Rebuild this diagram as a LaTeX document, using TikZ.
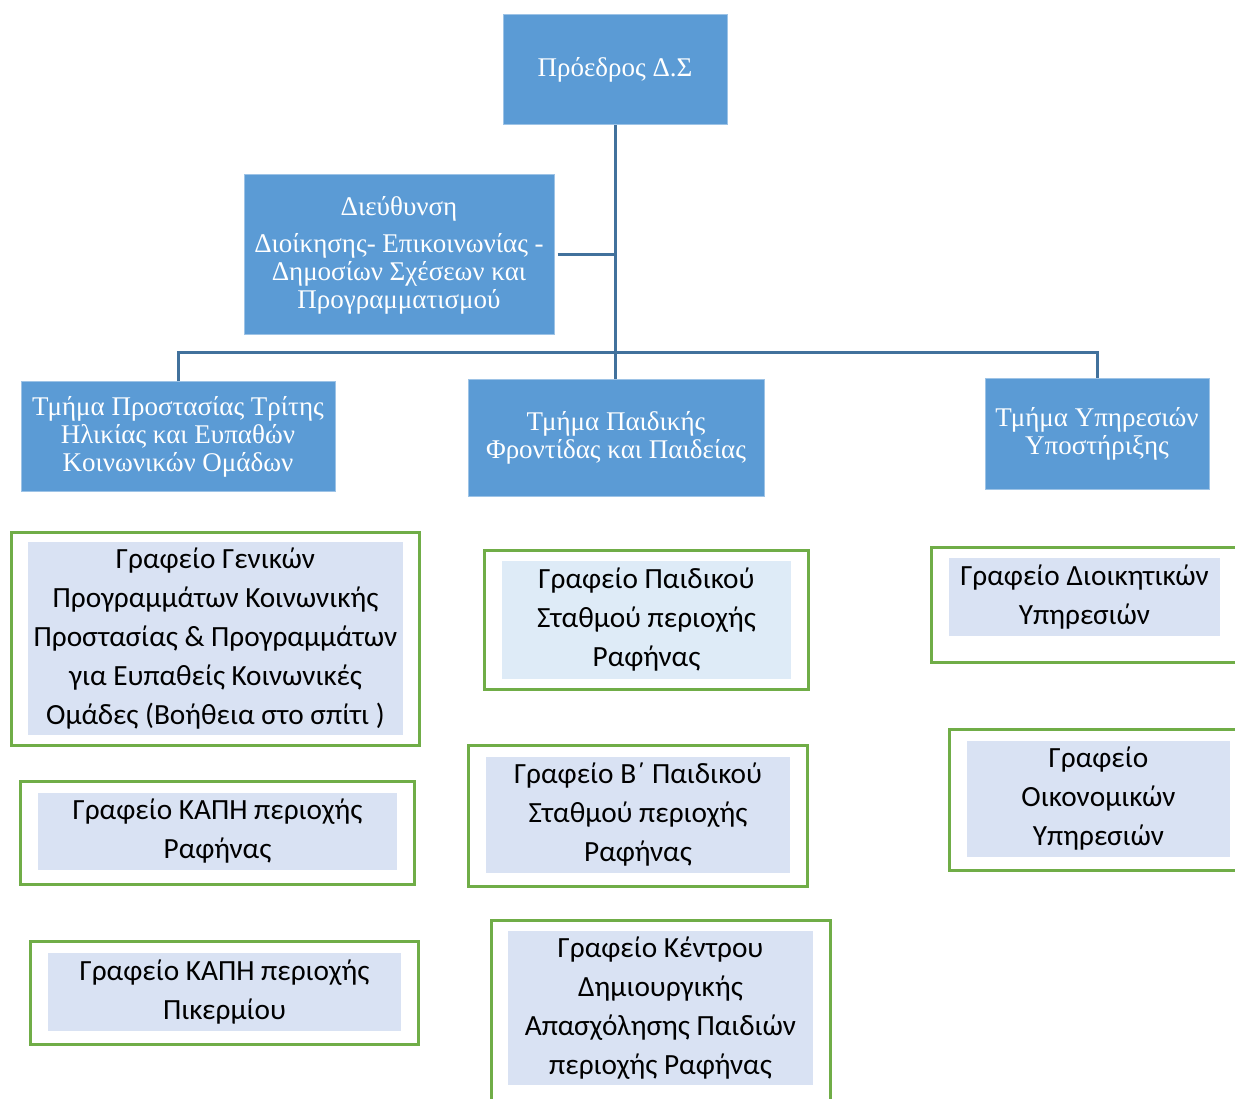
\documentclass[tikz,border=0pt]{standalone}
\usepackage{fontspec}
\setmainfont{Liberation Serif}
\newfontfamily\grafeio{Carlito}
\usepackage{tikz}
\usetikzlibrary{positioning}

\definecolor{deptblue}{HTML}{5B9BD5}
\definecolor{deptedge}{HTML}{9DC3E6}
\definecolor{linkblue}{HTML}{41719C}
\definecolor{boxgreen}{HTML}{70AD47}
\definecolor{officefill}{HTML}{D9E2F3}
\definecolor{officelight}{HTML}{DEEBF7}

\tikzset{
  dept/.style={draw=deptedge, line width=1pt, fill=deptblue, text=white, align=center,
    inner sep=0pt, font=\fontsize{27}{28}\selectfont},
  link/.style={draw=linkblue, line width=3pt},
  frame/.style={draw=boxgreen, line width=3pt, fill=white, inner sep=0pt},
  office/.style={fill=officefill, align=center, inner sep=0pt,
    font=\grafeio\fontsize{29.3}{39}\selectfont},
}

\begin{document}
\begin{tikzpicture}[x=1pt, y=-1pt]
	\useasboundingbox (0,0) rectangle (1235,1099);
	% top levels
	\node[dept, minimum width=224, minimum height=110] (pres) at (615,70) {Πρόεδρος Δ.Σ};
	\node[dept, minimum width=310, minimum height=160] (dir) at (399,255)
		{Διεύθυνση\\[9pt]Διοίκησης- Επικοινωνίας -\\Δημοσίων Σχέσεων και\\Προγραμματισμού};
	\node[dept, minimum width=314, minimum height=109] (third) at (178,436.5)
		{Τμήμα Προστασίας Τρίτης\\Ηλικίας και Ευπαθών\\Κοινωνικών Ομάδων};
	\node[dept, minimum width=296, minimum height=116] (child) at (616,438)
		{Τμήμα Παιδικής\\Φροντίδας και Παιδείας};
	\node[dept, minimum width=224, minimum height=110] (supp) at (1097,434)
		{Τμήμα Υπηρεσιών\\Υποστήριξης};
	%
	\coordinate (bus) at (615,353);
	\draw[link] (pres.south) -- (bus) -- (bus |- child.north);
	\draw[link] (dir.east) ++(3,0) coordinate (dirend) -- (dirend -| pres.south);
	\draw[link] (third.north) |- (bus) -| (supp.north);
	% offices, left column
	\node[frame, minimum width=408, minimum height=213] (genf) at (215,638.5) {};
	\node[office, minimum width=375, minimum height=193] (gen) at (215.5,638.5)
		{Γραφείο Γενικών\\Προγραμμάτων Κοινωνικής\\Προστασίας \& Προγραμμάτων\\για Ευπαθείς Κοινωνικές\\Ομάδες (Βοήθεια στο σπίτι )};
	\node[frame, minimum width=394, minimum height=103] (kapiaf) at (217,832.5) {};
	\node[office, minimum width=359, minimum height=77] (kapia) at (217.5,831.5)
		{Γραφείο ΚΑΠΗ περιοχής\\Ραφήνας};
	\node[frame, minimum width=388, minimum height=103] (kapibf) at (224,992.5) {};
	\node[office, minimum width=353, minimum height=78] (kapib) at (224.5,992)
		{Γραφείο ΚΑΠΗ περιοχής\\Πικερμίου};
	% offices, middle column
	\node[frame, minimum width=324, minimum height=139] (nurseaf) at (646,619.5) {};
	\node[office, fill=officelight, minimum width=289, minimum height=118] (nursea) at (646.5,620)
		{Γραφείο Παιδικού\\Σταθμού περιοχής\\Ραφήνας};
	\node[frame, minimum width=339, minimum height=141] (nursebf) at (637.5,815.5) {};
	\node[office, minimum width=304, minimum height=116] (nurseb) at (638,815)
		{Γραφείο Β΄ Παιδικού\\Σταθμού περιοχής\\Ραφήνας};
	\node[frame, minimum width=339, minimum height=190] (kdapf) at (660.5,1015) {};
	\node[office, minimum width=305, minimum height=154] (kdap) at (660.5,1008)
		{Γραφείο Κέντρου\\Δημιουργικής\\Απασχόλησης Παιδιών\\περιοχής Ραφήνας};
	% offices, right column
	\node[frame, minimum width=314, minimum height=115] (adminf) at (1088,604.5) {};
	\node[office, minimum width=271, minimum height=78] (admin) at (1084.5,597)
		{Γραφείο Διοικητικών\\Υπηρεσιών};
	\node[frame, minimum width=311, minimum height=141] (finf) at (1104.5,799.5) {};
	\node[office, minimum width=263, minimum height=116] (fin) at (1098.5,799)
		{Γραφείο\\Οικονομικών\\Υπηρεσιών};
\end{tikzpicture}
\end{document}
